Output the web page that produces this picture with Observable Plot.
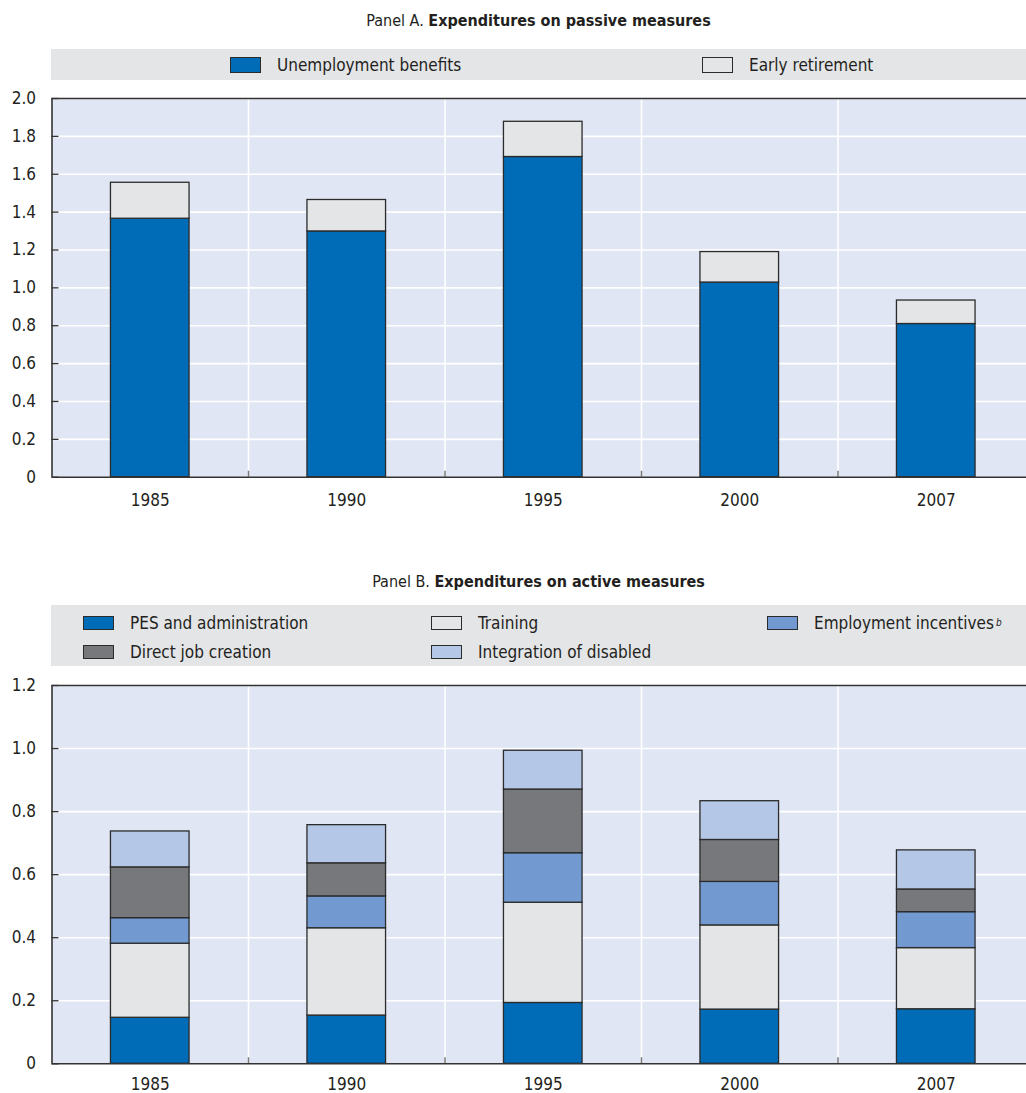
<!DOCTYPE html>
<html>
<head>
<meta charset="utf-8">
<script src="https://cdn.jsdelivr.net/npm/d3@7"></script>
<script src="https://cdn.jsdelivr.net/npm/@observablehq/plot@0.6"></script>
<style>
  body { margin: 0; background: #fff; }
  #page {
    position: relative; width: 1026px; height: 1093px; overflow: hidden;
    font-family: "DejaVu Sans Condensed", "DejaVu Sans", sans-serif; font-stretch: condensed;
    color: #231f20;
  }
  .title { position: absolute; left: 51px; width: 975px; text-align: center; font-size: 16px; line-height: 20px; white-space: nowrap; }
  .title b { font-weight: bold; }
  .band { position: absolute; left: 51px; width: 975px; background: #e4e5e7; }
  .item { position: absolute; font-size: 17px; line-height: 20px; white-space: nowrap; display: flex; align-items: center; }
  .sw { display: inline-block; box-sizing: border-box; width: 31px; height: 15px; border: 1px solid #2b2b2b; margin-right: 16px; }
  .item sup { font-size: 10px; font-style: italic; vertical-align: 6px; margin-left: 2px; }
  .plot { position: absolute; left: 0; }
</style>
</head>
<body>
<div id="page"></div>
<script>
// Years on the horizontal axis (shared by both panels)
const years = ["1985", "1990", "1995", "2000", "2007"];

// Panel A: passive measures (% of GDP)
const passiveSeries = ["Unemployment benefits", "Early retirement"];
const passiveColors = ["#006bb6", "#e4e5e7"];
const unemploymentBenefits = [1.365, 1.298, 1.691, 1.028, 0.809];
const earlyRetirement = [0.190, 0.166, 0.186, 0.161, 0.124];
const passiveTicks = [0, 0.2, 0.4, 0.6, 0.8, 1.0, 1.2, 1.4, 1.6, 1.8, 2.0];

// Panel B: active measures (% of GDP), listed in stacking order from the bottom
const activeSeries = ["PES and administration", "Training", "Employment incentives", "Direct job creation", "Integration of disabled"];
const activeColors = ["#006bb6", "#e4e5e7", "#7299d0", "#77787b", "#b4c7e7"];
const pesAdministration = [0.146, 0.153, 0.193, 0.172, 0.173];
const training = [0.235, 0.277, 0.318, 0.267, 0.194];
const employmentIncentives = [0.081, 0.101, 0.157, 0.138, 0.114];
const directJobCreation = [0.161, 0.105, 0.202, 0.133, 0.072];
const integrationDisabled = [0.114, 0.121, 0.123, 0.123, 0.124];
const activeTicks = [0, 0.2, 0.4, 0.6, 0.8, 1.0, 1.2];

const page = document.getElementById("page");
const FONT = '"DejaVu Sans Condensed", "DejaVu Sans", sans-serif';

// Build stacked rows: one rectangle per (year, series)
function stackRows(seriesNames, valueArrays) {
  const rows = [];
  years.forEach((year, i) => {
    let base = 0;
    seriesNames.forEach((s, k) => {
      const v = valueArrays[k][i];
      rows.push({ year, i, series: s, y1: base, y2: base + v });
      base += v;
    });
  });
  return rows;
}

function panelChart({ rows, seriesNames, colors, ticks, yMax, height, marginBottom, labelPadding }) {
  return Plot.plot({
    width: 1026,
    height,
    marginTop: 10,
    marginBottom,
    marginLeft: 51.5,
    marginRight: 0,
    style: { fontFamily: FONT, fontStretch: "condensed", fontSize: "17px", color: "#231f20", background: "transparent", overflow: "visible" },
    x: { type: "linear", domain: [0, years.length], range: [51.5, 1034] },
    y: { domain: [0, yMax] },
    color: { domain: seriesNames, range: colors },
    marks: [
      Plot.frame({ fill: "#e0e6f3", stroke: null }),
      Plot.gridY({ ticks: ticks.filter(t => t > 0), stroke: "#ffffff", strokeOpacity: 1, strokeWidth: 1.6 }),
      Plot.gridX({ ticks: d3.range(1, years.length + 1), stroke: "#ffffff", strokeOpacity: 1, strokeWidth: 1.6 }),
      Plot.rect(rows, {
        x1: d => d.i + 0.3, x2: d => d.i + 0.7,
        y1: "y1", y2: "y2",
        fill: "series", stroke: "#2b2b2b", strokeWidth: 1.3
      }),
      // short grey ticks standing on the baseline between the year groups
      Plot.axisX({ ticks: d3.range(1, years.length), tickSize: 6, dy: -6, tickFormat: () => "", stroke: "#7a7a7a", strokeWidth: 1.5 }),
      // frame lines: baseline, top edge, left edge
      Plot.ruleY([0, yMax], { stroke: "#333333", strokeWidth: 1.6 }),
      Plot.ruleX([0], { stroke: "#333333", strokeWidth: 1.6 }),
      // inward tick marks on the value axis
      Plot.axisY({ ticks, tickSize: 7, dx: 7, tickFormat: () => "", stroke: "#333333", strokeWidth: 1.3 }),
      Plot.axisY({ ticks, tickSize: 0, tickPadding: 16, tickFormat: d => d === 0 ? "0" : d.toFixed(1) }),
      Plot.axisX({
        ticks: years.map((_, i) => i + 0.5),
        tickSize: 0, tickPadding: labelPadding,
        tickFormat: v => years[Math.floor(v)]
      })
    ]
  });
}

function addTitle(top, prefix, bold) {
  const t = document.createElement("div");
  t.className = "title";
  t.style.top = top + "px";
  t.innerHTML = `${prefix} <b>${bold}</b>`;
  page.appendChild(t);
}

function addBand(top, h) {
  const b = document.createElement("div");
  b.className = "band";
  b.style.top = top + "px";
  b.style.height = h + "px";
  page.appendChild(b);
}

function addItem(label, color, left, centerY, swH, sup) {
  const it = document.createElement("div");
  it.className = "item";
  it.style.left = left + "px";
  it.style.top = (centerY - 10) + "px";
  const sw = document.createElement("span");
  sw.className = "sw";
  sw.style.background = color;
  sw.style.height = swH + "px";
  it.appendChild(sw);
  const tx = document.createElement("span");
  tx.textContent = label;
  it.appendChild(tx);
  if (sup) {
    const s = document.createElement("sup");
    s.textContent = sup;
    it.appendChild(s);
  }
  page.appendChild(it);
}

// ---- Panel A ----
addTitle(11, "Panel A.", "Expenditures on passive measures");
addBand(49, 31);
addItem(passiveSeries[0], passiveColors[0], 230, 64.5, 16);
addItem(passiveSeries[1], passiveColors[1], 702, 64.5, 16);

const chartA = panelChart({
  rows: stackRows(passiveSeries, [unemploymentBenefits, earlyRetirement]),
  seriesNames: passiveSeries, colors: passiveColors,
  ticks: passiveTicks, yMax: 2.0,
  height: 430, marginBottom: 41.3, labelPadding: 17
});
chartA.classList.add("plot");
chartA.style.top = "88px";
page.appendChild(chartA);

// ---- Panel B ----
addTitle(572, "Panel B.", "Expenditures on active measures");
addBand(605, 61);
addItem(activeSeries[0], activeColors[0], 83, 623, 14);
addItem(activeSeries[3], activeColors[3], 83, 652, 14);
addItem(activeSeries[1], activeColors[1], 431, 623, 14);
addItem(activeSeries[4], activeColors[4], 431, 652, 14);
addItem(activeSeries[2], activeColors[2], 767, 623, 14, "b");

const chartB = panelChart({
  rows: stackRows(activeSeries, [pesAdministration, training, employmentIncentives, directJobCreation, integrationDisabled]),
  seriesNames: activeSeries, colors: activeColors,
  ticks: activeTicks, yMax: 1.2,
  height: 418, marginBottom: 29.7, labelPadding: 14
});
chartB.classList.add("plot");
chartB.style.top = "675px";
page.appendChild(chartB);
</script>
</body>
</html>
